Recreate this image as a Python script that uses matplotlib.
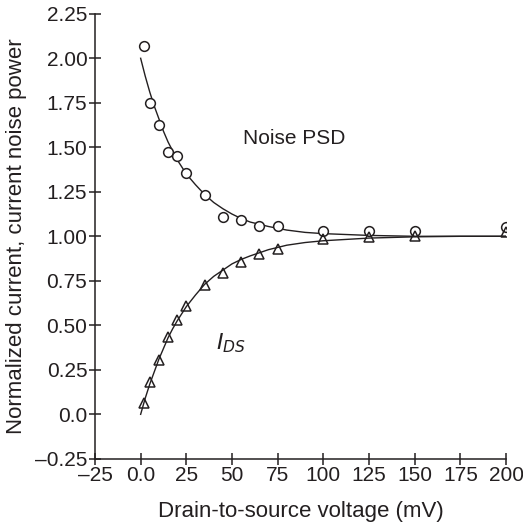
import numpy as np
import matplotlib
matplotlib.use("Agg")
import matplotlib.pyplot as plt

plt.rcParams['font.family'] = ['Liberation Sans', 'DejaVu Sans']

# measured points
v_meas = [2, 5, 10, 15, 20, 25, 35, 45, 55, 65, 75, 100, 125, 150, 200]
noise_meas = [2.07, 1.75, 1.625, 1.475, 1.45, 1.355, 1.23, 1.11, 1.09, 1.06, 1.06, 1.03, 1.03, 1.03, 1.055]
ids_meas = [0.065, 0.18, 0.305, 0.435, 0.53, 0.61, 0.725, 0.795, 0.855, 0.90, 0.93, 0.985, 0.995, 1.00, 1.025]

# fitted curves
v_fit = [0, 2.5, 5, 7.5, 10, 12.5, 15, 17.5, 20, 22.5, 25, 30, 35, 40, 45, 50, 55, 60,
         70, 80, 90, 100, 125, 150, 175, 200]
noise_fit = [2.00, 1.90, 1.81, 1.73, 1.66, 1.59, 1.53, 1.48, 1.43, 1.39, 1.35, 1.29, 1.235,
             1.19, 1.155, 1.125, 1.10, 1.08, 1.055, 1.035, 1.022, 1.015, 1.005, 1.0, 1.0, 1.0]
ids_fit = [0.0, 0.09, 0.17, 0.24, 0.31, 0.37, 0.43, 0.48, 0.525, 0.565, 0.605, 0.67, 0.73,
           0.775, 0.81, 0.845, 0.87, 0.89, 0.925, 0.95, 0.965, 0.975, 0.99, 0.997, 1.0, 1.0]

ink = '#231f20'

fig = plt.figure(figsize=(5.23, 5.30), dpi=100)
ax = fig.add_axes([0.1816, 0.1343, 0.7859, 0.8397])

ax.plot(v_fit, noise_fit, color=ink, lw=1.0)
ax.plot(v_fit, ids_fit, color=ink, lw=1.0)
ax.plot(v_meas, noise_meas, 'o', ms=7, mfc='white', mec=ink, mew=1.1, ls='none')
ax.plot(v_meas, ids_meas, '^', ms=7.5, mfc='none', mec=ink, mew=1.1, ls='none')

ax.text(84, 1.55, 'Noise PSD', fontsize=15, ha='center', va='center', color=ink)
ax.text(49.5, 0.40, r'$\mathit{I}_{\mathit{DS}}$', fontsize=16, ha='center', va='center',
        color=ink)

ax.set_xlim(-25, 200)
ax.set_ylim(-0.25, 2.25)
ax.set_xticks([-25, 0, 25, 50, 75, 100, 125, 150, 175, 200])
ax.set_xticklabels(['\u201325', '0.0', '25', '50', '75', '100', '125', '150', '175', '200'])
yt = [-0.25, 0, 0.25, 0.5, 0.75, 1.0, 1.25, 1.5, 1.75, 2.0, 2.25]
ax.set_yticks(yt)
ax.set_yticklabels(['\u20130.25', '0.0', '0.25', '0.50', '0.75', '1.00', '1.25', '1.50',
                    '1.75', '2.00', '2.25'])

for s in ['top', 'right']:
    ax.spines[s].set_visible(False)
for s in ['left', 'bottom']:
    ax.spines[s].set_linewidth(1.1)
    ax.spines[s].set_color(ink)
ax.tick_params(direction='inout', length=9, width=1.1, labelsize=15, colors=ink,
               pad=1)

ax.set_xlabel('Drain-to-source voltage (mV)', fontsize=16, color=ink, labelpad=11)
ax.set_ylabel('Normalized current, current noise power', fontsize=16, color=ink,
              labelpad=6)

fig.savefig('out.png', dpi=100)
